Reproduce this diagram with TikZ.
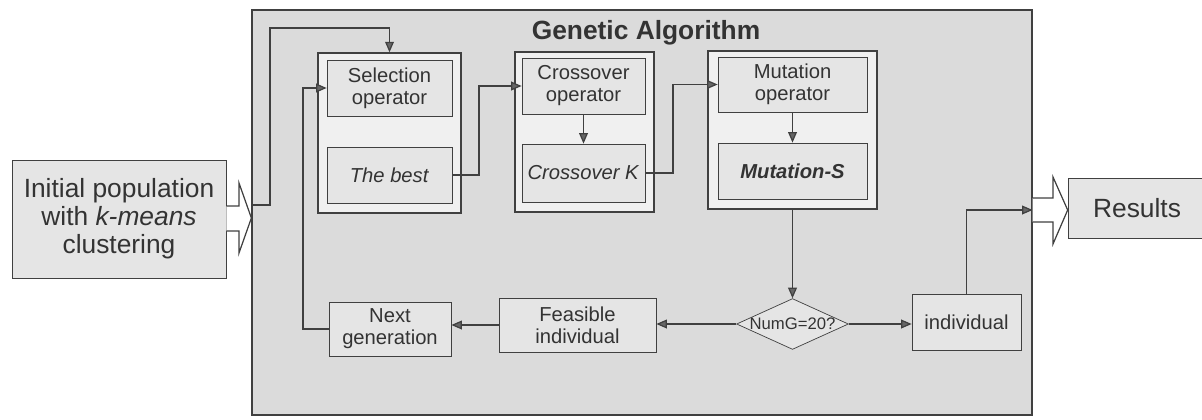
\documentclass[tikz,border=0pt]{standalone}
\usepackage{fontspec}
\setmainfont{Liberation Sans}
\usetikzlibrary{arrows.meta,shapes.geometric}

\definecolor{boxgray}{rgb}{0.9,0.9,0.9}
\definecolor{gagray}{rgb}{0.86,0.86,0.86}
\definecolor{linegray}{rgb}{0.25,0.25,0.25}

\begin{document}
\begin{tikzpicture}[x=0.02cm,y=-0.02cm,
    box/.style={draw=linegray,fill=boxgray,inner sep=0pt,align=center,text=black!80,
        font=\fontsize{11.5}{12.5}\selectfont},
    group/.style={draw=linegray,line width=0.8pt,fill=white!94!black,inner sep=0pt},
    arr/.style={draw=linegray,line width=0.7pt,-{Triangle[length=6pt,width=5pt,fill=black!60]}},
    hollow/.style={draw=linegray,line width=0.7pt,fill=white}]
                \clip (0,0) rectangle (1202,419);
                % genetic algorithm frame
                \node[draw=linegray,line width=0.8pt,fill=gagray,minimum width=15.6cm,minimum height=8.1cm] (GA) at (642,212.5) {};
                \node[font=\bfseries\fontsize{15}{17}\selectfont,text=black!80] (title) at (646,33) {Genetic Algorithm};
                % input and output
                \node[box,font=\fontsize{15}{16}\selectfont,minimum width=4.28cm,minimum height=2.36cm] (init) at (119,219) {Initial population\\with \textit{k-means}\\clustering};
                \node[box,font=\fontsize{15}{16}\selectfont,minimum width=2.76cm,minimum height=1.2cm] (res) at (1137,208) {Results};
                % operator groups
                \node[group,minimum width=2.86cm,minimum height=3.2cm] (selout) at (389.5,133) {};
                \node[group,minimum width=2.78cm,minimum height=3.2cm] (crossout) at (584.5,132) {};
                \node[group,minimum width=3.38cm,minimum height=3.16cm] (mutout) at (792.5,130) {};
                \node[box,minimum width=2.5cm,minimum height=1.12cm] (selop) at (389.5,88) {Selection\\operator};
                \node[box,minimum width=2.5cm,minimum height=1.12cm] (best) at (389.5,175) {\textit{The best}};
                \node[box,minimum width=2.46cm,minimum height=1.12cm] (crossop) at (583.5,86) {Crossover\\operator};
                \node[box,minimum width=2.46cm,minimum height=1.16cm] (crossk) at (583.5,173) {\textit{Crossover K}};
                \node[box,minimum width=2.98cm,minimum height=1.1cm] (mutop) at (792.5,84.5) {Mutation\\operator};
                \node[box,minimum width=2.98cm,minimum height=1.12cm] (muts) at (792.5,171) {\textbf{\textit{Mutation-S}}};
                % lower row
                \node[box,diamond,aspect=2.2,minimum width=2.16cm,minimum height=1cm,font=\fontsize{9.5}{11}\selectfont] (numg) at (792.5,324) {NumG=20?};
                \node[box,minimum width=2.18cm,minimum height=1.12cm] (indiv) at (966.5,322) {individual};
                \node[box,minimum width=3.14cm,minimum height=1.08cm] (feas) at (577.5,325) {Feasible\\individual};
                \node[box,minimum width=2.44cm,minimum height=1.08cm] (nextgen) at (390,329) {Next\\generation};
                % connectors
                \draw[arr] (GA.west |- 0,205) -- (270,205) |- (selout.north |- 0,28) -- (selout.north);
                \draw[arr] (nextgen.west) -- (303,329) |- (selop.west);
                \draw[arr] (best.east) -- (479,175) |- (crossop.west);
                \draw[arr] (crossop.south) -- (crossk.north);
                \draw[arr] (crossk.east) -- (673,173) |- (mutop.west);
                \draw[arr] (mutop.south) -- (muts.north);
                \draw[arr] (mutout.south) -- (numg.north);
                \draw[arr] (numg.east) -- (numg.east -| indiv.west);
                \draw[arr] (indiv.north) |- (GA.east |- 0,210);
                \draw[arr] (numg.west) -- (numg.west -| feas.east);
                \draw[arr] (feas.west) -- (feas.west -| nextgen.east);
                % big hollow arrows
                \draw[hollow] (init.east |- 0,206) -- (239,206) -- (239,183) -- (GA.west |- 0,218) -- (239,253) -- (239,231) -- (init.east |- 0,231);
                \draw[hollow] (GA.east |- 0,198) -- (1053,198) -- (1053,177) -- (res.west |- 0,210) -- (1053,244) -- (1053,222) -- (GA.east |- 0,222);
            \end{tikzpicture}
\end{document}
